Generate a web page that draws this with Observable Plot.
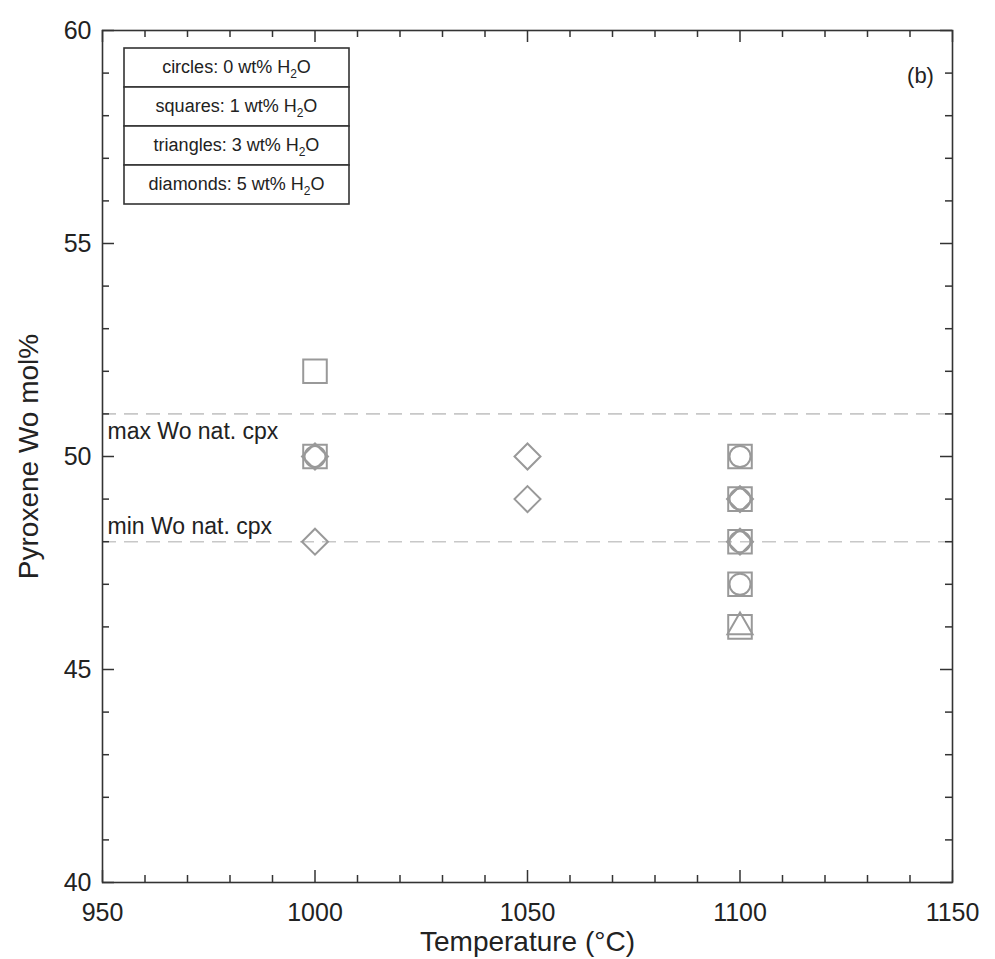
<!DOCTYPE html>
<html>
<head>
<meta charset="utf-8">
<script src="https://cdn.jsdelivr.net/npm/d3@7"></script>
<script src="https://cdn.jsdelivr.net/npm/@observablehq/plot@0.6"></script>
<style>
  html, body { margin: 0; padding: 0; background: #fff; }
  #chart { width: 995px; height: 959px; }
  svg { font-family: "Liberation Sans", Arial, sans-serif; }
</style>
</head>
<body>
<div id="chart"></div>
<script>
// ---- data ----
const circles = [ // 0 wt% H2O
  {t: 1000, wo: 50}, {t: 1100, wo: 50}, {t: 1100, wo: 49}, {t: 1100, wo: 48}, {t: 1100, wo: 47}
];
const squares = [ // 1 wt% H2O
  {t: 1000, wo: 52}, {t: 1000, wo: 50}, {t: 1100, wo: 50}, {t: 1100, wo: 49},
  {t: 1100, wo: 48}, {t: 1100, wo: 47}, {t: 1100, wo: 46}
];
const triangles = [ // 3 wt% H2O
  {t: 1100, wo: 46}
];
const diamonds = [ // 5 wt% H2O
  {t: 1000, wo: 50}, {t: 1000, wo: 48}, {t: 1050, wo: 50}, {t: 1050, wo: 49},
  {t: 1100, wo: 49}, {t: 1100, wo: 48}
];
const refLines = [
  {wo: 51, label: "max Wo nat. cpx", pos: "below"},
  {wo: 48, label: "min Wo nat. cpx", pos: "above"}
];
const legendRows = [
  {pre: "circles: 0 wt% H", sub: "2", post: "O"},
  {pre: "squares: 1 wt% H", sub: "2", post: "O"},
  {pre: "triangles: 3 wt% H", sub: "2", post: "O"},
  {pre: "diamonds: 5 wt% H", sub: "2", post: "O"}
];
const xMajor = [950, 1000, 1050, 1100, 1150];
const xMinor = d3.range(950, 1151, 10).filter(v => !xMajor.includes(v));
const yMajor = [40, 45, 50, 55, 60];
const yMinor = d3.range(40, 61, 1).filter(v => !yMajor.includes(v));

// ---- layout ----
const W = 995, H = 959;
const mL = 102, mR = 43, mT = 30, mB = 77;
const pw = W - mL - mR, ph = H - mT - mB;
const majLen = 12, minLen = 7;
const axisColor = "#333";
const markColor = "#999999";

const plot = Plot.plot({
  width: W, height: H,
  marginLeft: mL, marginRight: mR, marginTop: mT, marginBottom: mB,
  style: {fontFamily: '"Liberation Sans", Arial, sans-serif', background: "#fff", color: axisColor},
  x: {domain: [950, 1150]},
  y: {domain: [40, 60]},
  marks: [
    // reference lines
    Plot.ruleY(refLines, {y: "wo", stroke: "#c8c8c8", strokeWidth: 1.6, strokeDasharray: "14,8"}),
    Plot.text(refLines.filter(d => d.pos === "below"), {x: 950, y: "wo", text: "label", textAnchor: "start", lineAnchor: "bottom", dx: 5, dy: 25, fontSize: 23, fill: "#222"}),
    Plot.text(refLines.filter(d => d.pos === "above"), {x: 950, y: "wo", text: "label", textAnchor: "start", lineAnchor: "bottom", dx: 5, dy: -8, fontSize: 23, fill: "#222"}),
    // data
    Plot.dot(squares, {x: "t", y: "wo", symbol: "square2", r: 15, stroke: markColor, strokeWidth: 2, fill: "none"}),
    Plot.dot(circles, {x: "t", y: "wo", symbol: "circle", r: 10.5, stroke: markColor, strokeWidth: 2, fill: "none"}),
    Plot.dot(diamonds, {x: "t", y: "wo", symbol: "diamond2", r: 11.7, stroke: markColor, strokeWidth: 2, fill: "none"}),
    Plot.dot(triangles, {x: "t", y: "wo", symbol: "triangle2", r: 12, stroke: markColor, strokeWidth: 2, fill: "none"}),
    // inward ticks: bottom/top
    Plot.tickX(xMajor, {x: d => d, insetTop: ph - majLen, stroke: axisColor, strokeWidth: 1.5}),
    Plot.tickX(xMinor, {x: d => d, insetTop: ph - minLen, stroke: axisColor, strokeWidth: 1.5}),
    Plot.tickX(xMajor, {x: d => d, insetBottom: ph - majLen, stroke: axisColor, strokeWidth: 1.5}),
    Plot.tickX(xMinor, {x: d => d, insetBottom: ph - minLen, stroke: axisColor, strokeWidth: 1.5}),
    // inward ticks: left/right
    Plot.tickY(yMajor, {y: d => d, insetRight: pw - majLen, stroke: axisColor, strokeWidth: 1.5}),
    Plot.tickY(yMinor, {y: d => d, insetRight: pw - minLen, stroke: axisColor, strokeWidth: 1.5}),
    Plot.tickY(yMajor, {y: d => d, insetLeft: pw - majLen, stroke: axisColor, strokeWidth: 1.5}),
    Plot.tickY(yMinor, {y: d => d, insetLeft: pw - minLen, stroke: axisColor, strokeWidth: 1.5}),
    // axes labels
    Plot.axisX(xMajor, {tickSize: 0, tickPadding: 21, fontSize: 25, fill: "#222", tickFormat: d3.format("d"),
      label: "Temperature (°C)", labelAnchor: "center", labelArrow: "none", labelOffset: 68}),
    Plot.axisY(yMajor, {tickSize: 0, tickPadding: 11, fontSize: 25, fill: "#222",
      label: "Pyroxene Wo mol%", labelAnchor: "center", labelArrow: "none", labelOffset: 84}),
    Plot.text(["(b)"], {frameAnchor: "top-right", textAnchor: "middle", dx: -32, dy: 37, fontSize: 22, fill: "#222"}),
    Plot.frame({stroke: axisColor, strokeWidth: 1.6})
  ]
});

document.getElementById("chart").appendChild(plot);

// axis title font sizes
const svg = d3.select(plot);
svg.selectAll("[aria-label='x-axis label'] text, [aria-label='y-axis label'] text")
  .attr("font-size", 28).attr("fill", "#222");

// ---- legend box (top-left inside frame) ----
const lgX = mL + 22, lgY = mT + 18, lgW = 225, rowH = 39;
const lg = svg.append("g").attr("font-size", 18).attr("fill", "#222");
legendRows.forEach((r, i) => {
  lg.append("rect")
    .attr("x", lgX).attr("y", lgY + i * rowH)
    .attr("width", lgW).attr("height", rowH)
    .attr("fill", "#fff").attr("stroke", axisColor).attr("stroke-width", 1.6);
  const t = lg.append("text")
    .attr("x", lgX + lgW / 2).attr("y", lgY + i * rowH + rowH / 2 + 5)
    .attr("text-anchor", "middle");
  t.append("tspan").text(r.pre);
  t.append("tspan").attr("dy", 5).attr("font-size", 12).text(r.sub);
  t.append("tspan").attr("dy", -5).text(r.post);
});
</script>
</body>
</html>
